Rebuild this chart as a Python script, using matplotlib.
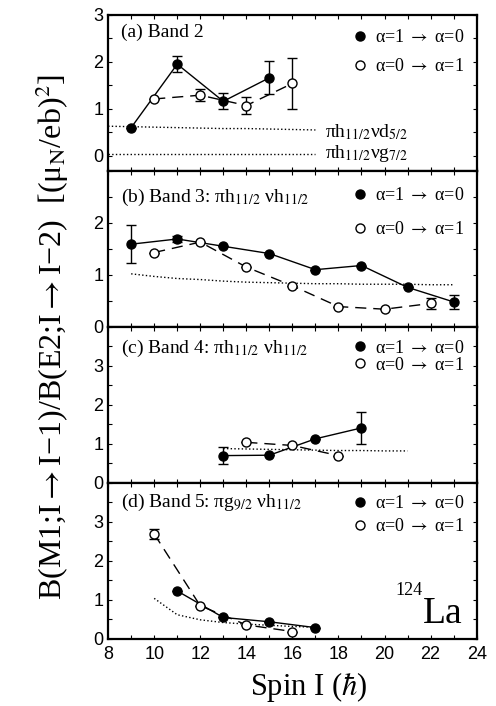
import numpy as np
import matplotlib
matplotlib.use("Agg")
import matplotlib.pyplot as plt
from matplotlib.lines import Line2D
from matplotlib.ticker import MultipleLocator

plt.rcParams['font.family'] = ['Liberation Serif', 'DejaVu Serif']
plt.rcParams['mathtext.fontset'] = 'stix'

# (a) Band 2
a_fill_I = [9, 11, 13, 15]
a_fill_B = [0.60, 1.95, 1.16, 1.66]
a_fill_err = [0.0, 0.17, 0.17, 0.35]
a_open_I = [10, 12, 14, 16]
a_open_B = [1.21, 1.29, 1.07, 1.54]
a_open_err = [0.0, 0.13, 0.19, 0.55]
a_th1_I = [8, 9, 10, 11, 12, 13, 14, 15, 16, 17]
a_th1_B = [0.63, 0.62, 0.61, 0.60, 0.59, 0.58, 0.58, 0.57, 0.56, 0.55]
a_th2_I = [8, 9, 10, 11, 12, 13, 14, 15, 16, 17]
a_th2_B = [0.03, 0.03, 0.03, 0.03, 0.03, 0.03, 0.03, 0.03, 0.03, 0.03]

# (b) Band 3
b_fill_I = [9, 11, 13, 15, 17, 19, 21, 23]
b_fill_B = [1.59, 1.69, 1.55, 1.41, 1.10, 1.18, 0.76, 0.48]
b_fill_err = [0.36, 0.05, 0.0, 0.0, 0.0, 0.0, 0.0, 0.13]
b_open_I = [10, 12, 14, 16, 18, 20, 22]
b_open_B = [1.43, 1.63, 1.15, 0.79, 0.39, 0.34, 0.45]
b_open_err = [0.0, 0.0, 0.0, 0.0, 0.0, 0.0, 0.10]
b_th_I = [9, 10, 11, 12, 13, 14, 15, 16, 17, 18, 19, 20, 21, 22, 23]
b_th_B = [1.02, 0.97, 0.93, 0.91, 0.88, 0.86, 0.85, 0.84, 0.83, 0.83,
          0.82, 0.82, 0.82, 0.81, 0.81]

# (c) Band 4
c_fill_I = [13, 15, 17, 19]
c_fill_B = [0.70, 0.71, 1.13, 1.41]
c_fill_err = [0.21, 0.0, 0.0, 0.40]
c_open_I = [14, 16, 18]
c_open_B = [1.04, 0.96, 0.70]
c_open_err = [0.0, 0.0, 0.0]
c_th_I = [13, 14, 15, 16, 17, 18, 19, 20, 21]
c_th_B = [0.88, 0.87, 0.86, 0.85, 0.84, 0.83, 0.83, 0.82, 0.82]

# (d) Band 5
d_fill_I = [11, 13, 15, 17]
d_fill_B = [1.23, 0.55, 0.44, 0.29]
d_fill_err = [0.0, 0.0, 0.0, 0.0]
d_open_I = [10, 12, 14, 16]
d_open_B = [2.69, 0.85, 0.36, 0.19]
d_open_err = [0.13, 0.0, 0.0, 0.0]
d_th_I = [10, 11, 12, 13, 14, 15, 16, 17]
d_th_B = [1.04, 0.62, 0.49, 0.42, 0.38, 0.35, 0.32, 0.30]

titles = [r"(a) Band 2",
          r"(b) Band 3: πh$_{11/2}$ νh$_{11/2}$",
          r"(c) Band 4: πh$_{11/2}$ νh$_{11/2}$",
          r"(d) Band 5: πg$_{9/2}$ νh$_{11/2}$"]
leg_labels = [r"α=1 $\rightarrow$ α=0", r"α=0 $\rightarrow$ α=1"]

fig, axes = plt.subplots(4, 1, sharex=True, figsize=(4.96, 7.06), dpi=100)
fig.subplots_adjust(left=0.218, right=0.961, top=0.979, bottom=0.095, hspace=0)

panels = [
    (a_fill_I, a_fill_B, a_fill_err, a_open_I, a_open_B, a_open_err),
    (b_fill_I, b_fill_B, b_fill_err, b_open_I, b_open_B, b_open_err),
    (c_fill_I, c_fill_B, c_fill_err, c_open_I, c_open_B, c_open_err),
    (d_fill_I, d_fill_B, d_fill_err, d_open_I, d_open_B, d_open_err),
]
ylims = [(-0.32, 3.0), (0, 3.0), (0, 4.0), (0, 4.0)]
yticks = [[0, 1, 2, 3], [0, 1, 2], [0, 1, 2, 3], [0, 1, 2, 3]]
title_y = [0.856, 0.80, 0.836, 0.844]
leg_y = [0.965, 0.955, 0.975, 0.98]
leg_sp = [0.65, 0.95, 0.0, 0.35]

for i, ax in enumerate(axes):
    fI, fB, fE, oI, oB, oE = panels[i]
    ax.errorbar(fI, fB, yerr=fE, fmt='-o', color='black', mfc='black',
                ms=6.5, lw=1.0, capsize=3.5, elinewidth=1.0, zorder=3)
    ax.errorbar(oI, oB, yerr=oE, fmt='o', ls=(0, (8, 5)), color='black',
                mfc='white', ms=6.5, lw=1.0, capsize=3.5, elinewidth=1.0, zorder=4)

    ax.set_xlim(8, 24)
    ax.set_ylim(*ylims[i])
    ax.set_yticks(yticks[i])
    ax.yaxis.set_minor_locator(MultipleLocator(0.5))
    ax.xaxis.set_major_locator(MultipleLocator(2))
    ax.xaxis.set_minor_locator(MultipleLocator(1))
    ax.tick_params(which='both', direction='in', top=True, right=True,
                   length=3, width=0.8)
    ax.tick_params(axis='both', labelsize=13)
    ax.tick_params(axis='x', pad=5)
    for lab in ax.get_xticklabels() + ax.get_yticklabels():
        lab.set_family(['Liberation Sans', 'DejaVu Sans'])
    for sp in ax.spines.values():
        sp.set_linewidth(1.6)

    ax.text(0.035, title_y[i], titles[i], transform=ax.transAxes,
            fontsize=14, ha='left', va='baseline')

    handles = [Line2D([], [], ls='none', marker='o', color='black', mfc='black', ms=6.5),
               Line2D([], [], ls='none', marker='o', color='black', mfc='white', ms=6.5)]
    ax.legend(handles, leg_labels, loc='upper left', bbox_to_anchor=(0.645, leg_y[i]),
              frameon=False, fontsize=13, handlelength=0.6, handletextpad=0.5,
              labelspacing=leg_sp[i], borderpad=0)

# theoretical curves
axes[0].plot(a_th1_I, a_th1_B, ls=':', color='black', lw=1.0)
axes[0].plot(a_th2_I, a_th2_B, ls=':', color='black', lw=1.0)
axes[0].text(17.4, 0.50, r"πh$_{11/2}$νd$_{5/2}$", fontsize=14, va='center')
axes[0].text(17.4, 0.05, r"πh$_{11/2}$νg$_{7/2}$", fontsize=14, va='center')
axes[1].plot(b_th_I, b_th_B, ls=':', color='black', lw=1.0)
axes[2].plot(c_th_I, c_th_B, ls=':', color='black', lw=1.0)
axes[3].plot(d_th_I, d_th_B, ls=':', color='black', lw=1.0)

axes[3].text(0.852, 0.28, "124", transform=axes[3].transAxes, fontsize=13,
             ha='right', va='baseline')
axes[3].text(0.855, 0.10, "La", transform=axes[3].transAxes, fontsize=27,
             ha='left', va='baseline')

axes[3].set_xlabel(r"Spin I ($\hbar$)", fontsize=22)
axes[3].xaxis.set_label_coords(0.545, -0.2)
fig.text(0.105, 0.523,
         r"B(M1;I$\rightarrow$I−1)/B(E2;I$\rightarrow$I−2)  [(μ$_\mathrm{N}$/eb)$^2$]",
         rotation=90, fontsize=23, ha='center', va='center')

fig.savefig("out.png", dpi=100)
